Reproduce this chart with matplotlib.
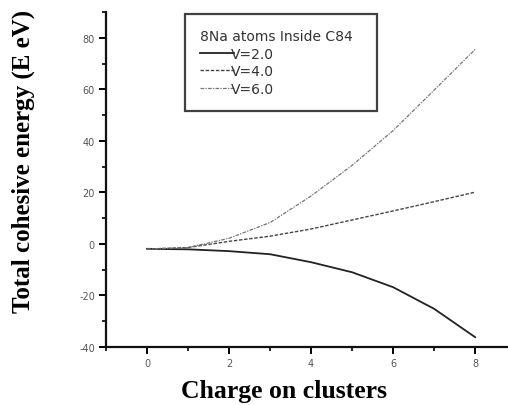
import numpy as np
import matplotlib
matplotlib.use('Agg')
from matplotlib import pyplot as plt
from matplotlib.ticker import MultipleLocator

plt.rcParams['axes.unicode_minus'] = False

# charge on the cluster and total cohesive energy for each potential depth
charge = [0, 1, 2, 3, 4, 5, 6, 7, 8]
energy_v2 = [-1.9, -2.1, -2.8, -4.0, -7.1, -11.0, -16.8, -25.2, -36.2]
energy_v4 = [-2.0, -1.4, 1.0, 3.0, 5.8, 9.3, 12.8, 16.4, 20.1]
energy_v6 = [-2.0, -1.4, 2.2, 8.3, 18.6, 30.5, 44.0, 59.7, 75.5]
series_labels = ['V=2.0', 'V=4.0', 'V=6.0']
legend_title = '8Na atoms Inside C84'

fig = plt.figure(figsize=(5.08, 4.06), dpi=100)
ax = fig.add_axes([0.2087, 0.1429, 0.7913, 0.825])

ax.plot(charge, energy_v2, color='#222222', linestyle='-', linewidth=1.3, label=series_labels[0])
ax.plot(charge, energy_v4, color='#444444', linestyle=(0, (2.5, 1.2)), linewidth=1.0, label=series_labels[1])
ax.plot(charge, energy_v6, color='#777777', linestyle=(0, (3, 1, 1, 1)), linewidth=0.9, label=series_labels[2])

ax.set_xlim(-1, 8.8)
ax.set_ylim(-40, 90)
ax.xaxis.set_major_locator(MultipleLocator(2))
ax.xaxis.set_minor_locator(MultipleLocator(1))
ax.yaxis.set_major_locator(MultipleLocator(20))
ax.yaxis.set_minor_locator(MultipleLocator(10))
ax.set_xticks([0, 2, 4, 6, 8])

for side in ['top', 'right']:
    ax.spines[side].set_visible(False)
for side in ['left', 'bottom']:
    ax.spines[side].set_linewidth(1.6)
    ax.spines[side].set_color('#111111')

ax.tick_params(which='major', direction='out', length=5, width=1.4, labelsize=7,
               labelcolor='#555555', pad=3)
ax.tick_params(which='minor', direction='out', length=3, width=1.2)

ax.set_xlabel('Charge on clusters', family='Liberation Serif', fontweight='bold',
              fontsize=18.5)
ax.set_ylabel('Total cohesive energy (E eV)', family='Liberation Serif', fontweight='bold',
              fontsize=18)
ax.xaxis.set_label_coords(0.443, -0.095)
ax.yaxis.set_label_coords(-0.177, 0.557)

leg = ax.legend(loc='upper left', bbox_to_anchor=(0.197, 0.71, 0.477, 0.284), mode='expand',
                title=legend_title, alignment='left', fontsize=10, title_fontsize=10,
                frameon=True, fancybox=False, handlelength=2.4, handletextpad=-0.2,
                borderpad=1.1, labelspacing=0.25, borderaxespad=0)
leg.get_frame().set_edgecolor('#111111')
leg.get_frame().set_linewidth(1.6)
for t in leg.get_texts():
    t.set_color('#333333')
leg.get_title().set_color('#333333')

fig.savefig('out.png', dpi=100)
